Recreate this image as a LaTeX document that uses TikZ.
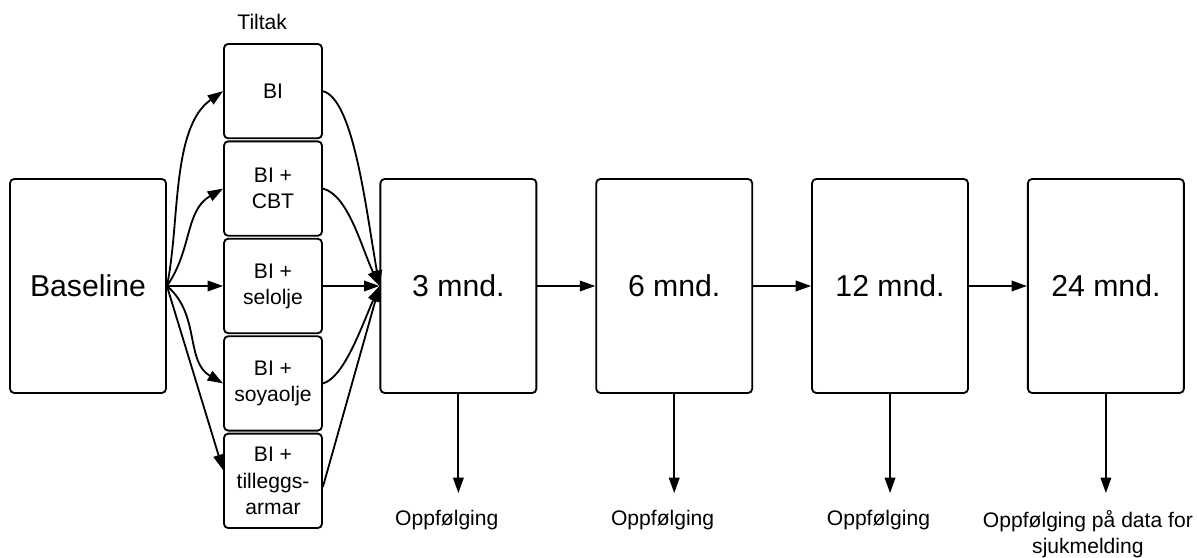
\documentclass[tikz,border=0pt]{standalone}
\usepackage{fontspec}
\setmainfont{Liberation Sans}
\usepackage{tikz}
\usetikzlibrary{arrows.meta, positioning}

\begin{document}
\begin{tikzpicture}[
  bigbox/.style = {
    rectangle, rounded corners=3pt,
    draw=black, line width=1.3pt,
    minimum width=3.9cm, minimum height=5.35cm,
    align=center, font=\fontsize{21.5}{26}\selectfont
  },
  tbox/.style = {
    rectangle, rounded corners=3pt,
    draw=black, line width=1.3pt,
    minimum width=2.45cm, minimum height=2.36cm,
    align=center, font=\fontsize{15}{18.5}\selectfont
  },
  lbl/.style = {align=center, font=\fontsize{15}{18.5}\selectfont},
  arr/.style = {-{Triangle[length=11pt, width=7.5pt]}, line width=1.3pt, black}
]
\useasboundingbox (0,0) rectangle (29.925,13.95);

% Baseline and the five arms
\node[bigbox] (base) at (2.2,6.8) {Baseline};
\node[tbox] (sel) at (6.825,6.8) {BI +\\selolje};
\node[tbox, above=0.03cm of sel]  (cbt)  {BI +\\CBT};
\node[tbox, above=0.03cm of cbt]  (bi)   {BI};
\node[tbox, below=0.03cm of sel]  (soya) {BI +\\soyaolje};
\node[tbox, below=0.03cm of soya] (till) {BI +\\tilleggs-\\armar};
\node[lbl, above=0.22cm of bi, xshift=-0.27cm] (tiltak) {Tiltak};

% Follow-up points
\node[bigbox] (m3) at (11.46,6.8) {3 mnd.};
\node[bigbox, right=1.45cm of m3] (m6)  {6 mnd.};
\node[bigbox, right=1.45cm of m6] (m12) {12 mnd.};
\node[bigbox, right=1.45cm of m12] (m24) {24 mnd.};

\node[lbl, below=2.78cm of m3,  xshift=-0.29cm] (f3)  {Oppfølging};
\node[lbl, below=2.78cm of m6,  xshift=-0.29cm] (f6)  {Oppfølging};
\node[lbl, below=2.78cm of m12, xshift=-0.29cm] (f12) {Oppfølging};
\node[lbl, below=2.78cm of m24, xshift=-0.45cm] (f24) {Oppfølging på data for\\sjukmelding};

% Baseline out to the arms
\draw[arr] (base.east) to[out=78, in=215, looseness=0.8] (bi.west);
\draw[arr] (base.east) to[out=55, in=210] (cbt.west);
\draw[arr] (base.east) -- (sel.west);
\draw[arr] (base.east) to[out=-40, in=150] (soya.west);
\draw[arr] (base.east) -- ([yshift=0.27cm]till.west);

% Arms in to 3 mnd.
\draw[arr] (bi.east) to[out=-15, in=100, out looseness=0.4, in looseness=1] (m3.west);
\draw[arr] (cbt.east) to[out=-15, in=115, out looseness=0.6, in looseness=1] (m3.west);
\draw[arr] (sel.east) -- (m3.west);
\draw[arr] (soya.east) to[out=15, in=246, out looseness=0.5, in looseness=1] (m3.west);
\draw[arr] ([yshift=-0.15cm]till.east) -- (m3.west);

% Along the time line
\draw[arr] (m3)  -- (m6);
\draw[arr] (m6)  -- (m12);
\draw[arr] (m12) -- (m24);

% Down to the follow-up texts
\draw[arr, shorten >=0.3cm] (m3.south)  -- (m3.south |- f3.north);
\draw[arr, shorten >=0.3cm] (m6.south)  -- (m6.south |- f6.north);
\draw[arr, shorten >=0.3cm] (m12.south) -- (m12.south |- f12.north);
\draw[arr, shorten >=0.3cm] (m24.south) -- (m24.south |- f24.north);
\end{tikzpicture}
\end{document}
